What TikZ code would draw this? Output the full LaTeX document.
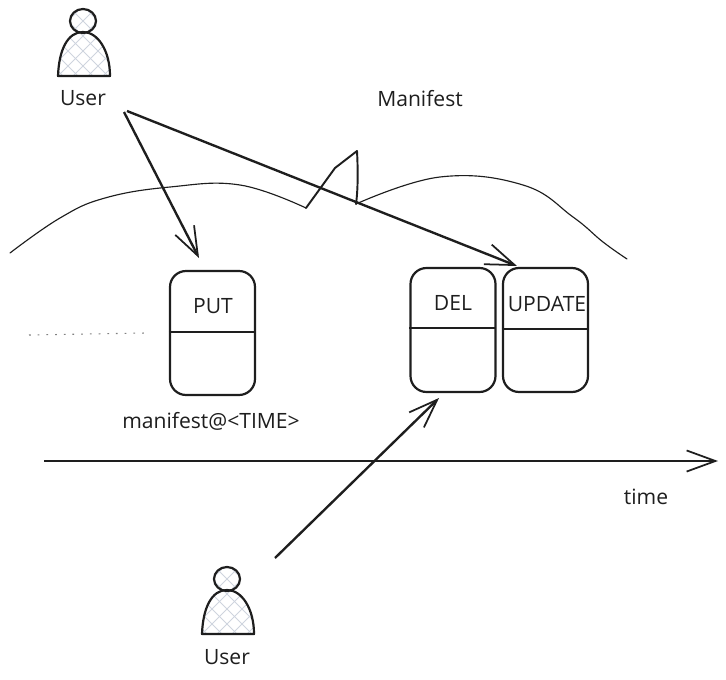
\documentclass[tikz,border=0pt]{standalone}
\usepackage{fontspec}
\setmainfont{Open Sans}
\usetikzlibrary{arrows.meta, calc, positioning}
\definecolor{hatch}{RGB}{206,212,222}
\definecolor{ink}{RGB}{30,30,30}
\newcommand{\drawhatch}{%
  \foreach \i in {-90,-75,...,90} {
    \draw[hatch, line width=0.5pt] (\i-50,-20) -- (\i+50,80);
    \draw[hatch, line width=0.5pt] (\i+50,-20) -- (\i-50,80);
  }}

\begin{document}
\begin{tikzpicture}[x=0.02cm, y=-0.02cm]
% TikZ styles
\tikzset{
  slot/.style={rectangle, draw=ink, line width=1.25pt, rounded corners=0.32cm, minimum width=1.7cm, minimum height=2.48cm, inner sep=0pt},
  hand/.style={text=ink, font=\fontsize{12}{14}\selectfont, inner sep=0pt},
  arrow/.style={-{Straight Barb[length=16.4pt, width=12pt, line width=1pt]}, draw=ink, line width=1.35pt},
  split/.style={draw=ink, line width=1.1pt},
  hill/.style={draw=ink, line width=0.65pt, line cap=round, line join=round},
  user/.pic={
    \begin{scope}
      \clip (-25,55) .. controls (-24,28) and (-15,11) .. (0,11) .. controls (15,11) and (27,30) .. (27,55) -- cycle;
      \drawhatch
    \end{scope}
    \begin{scope}
      \clip (0,0) ellipse [x radius=13, y radius=12];
      \drawhatch
    \end{scope}
    \draw[draw=ink, line width=1.25pt, line join=round] (-25,55) .. controls (-24,28) and (-15,11) .. (0,11) .. controls (15,11) and (27,30) .. (27,55) -- cycle;
    \draw[draw=ink, line width=1.25pt] (0,0) ellipse [x radius=13, y radius=12];
  }
};
\useasboundingbox (0,0) rectangle (726,679);

%==========================
% Figuren
%==========================
\pic at (83,21) {user};
\pic at (227,579) {user};
\node[hand] (usertop) at (83,98) {User};
\node[hand] (userbottom) at (227,657) {User};
\node[hand] (manifest) at (420,99) {Manifest};

%==========================
% Versionen
%==========================
\node[slot] (putbox) at (212.5,333) {};
\node[slot] (delbox) at (453,330) {};
\node[slot] (updatebox) at (545.5,330) {};
\node[hand] (put) at (213,306) {PUT};
\node[hand] (del) at (453,303) {DEL};
\node[hand] (update) at (547,304) {UPDATE};
\node[hand] (puttime) at (211,421) {manifest@<TIME>};
\node[hand] (timelabel) at (646,497) {time};

\draw[split] ($(putbox.west)+(0,-1)$) -- ++(87,0);
\draw[split] ($(delbox.west)+(0,-2)$) -- ++(87,0);
\draw[split] ($(updatebox.west)+(0,-1)$) -- ++(87,0);

% === Kurve ===
\draw[hill] plot[smooth, tension=0.7] coordinates {(10,253) (60,218) (105,198) (170,187) (240,185) (306,208)};
\draw[hill, line width=1.1pt] (306,208) -- (335,168) -- (357,151);
\draw[hill, line width=1.1pt] (357,151) .. controls (358,170) and (358,190) .. (356,204);
\draw[hill] plot[smooth, tension=0.7] coordinates {(356,204) (440,177) (523,185) (573,217) (603,242) (627,259)};

% === Pfeile ===
\coordinate (startput) at (124,112);
\coordinate (tipput) at (199,258);
\coordinate (startupdate) at (127,111);
\coordinate (tipupdate) at (517,266);
\coordinate (startdel) at (275,558);
\coordinate (tipdel) at (439,398);
\coordinate (timestart) at (44,461);
\coordinate (timeend) at (718,461);
\coordinate (dotsstart) at (29,335);
\coordinate (dotsend) at (145,333);

\draw[arrow] (startput) -- (tipput);
\draw[arrow] (startupdate) -- (tipupdate);
\draw[arrow] (startdel) -- (tipdel);
\draw[arrow] (timestart) -- (timeend);
\draw[draw=gray, line width=0.6pt, dash pattern=on 1pt off 3.95pt] (dotsstart) -- (dotsend);
\end{tikzpicture}
\end{document}
